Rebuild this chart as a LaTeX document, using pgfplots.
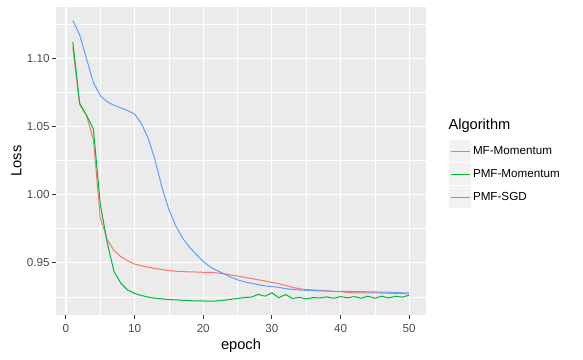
\documentclass[border=0pt]{standalone}
\usepackage{fontspec}
\setmainfont{Liberation Sans}
\usepackage{pgfplots}
\pgfplotsset{compat=1.18}
\usepackage{pgfplotstable}
\definecolor{ggred}{HTML}{F8766D}
\definecolor{gggreen}{HTML}{00BA38}
\definecolor{ggblue}{HTML}{619CFF}
\definecolor{panelbg}{HTML}{EBEBEB}
\definecolor{keybg}{HTML}{F2F2F2}
\definecolor{gray20}{HTML}{333333}
\definecolor{gray30}{HTML}{4D4D4D}

\pgfplotstableread{
epoch loss
1 1.108
2 1.066
3 1.058
4 1.040
5 0.983
6 0.967
7 0.959
8 0.9545
9 0.9515
10 0.949
11 0.9478
12 0.9467
13 0.9458
14 0.945
15 0.9443
16 0.9438
17 0.9435
18 0.9433
19 0.9432
20 0.943
21 0.943
22 0.9425
23 0.942
24 0.941
25 0.9403
26 0.9393
27 0.9385
28 0.9375
29 0.9367
30 0.9356
31 0.9346
32 0.9333
33 0.932
34 0.931
35 0.9304
36 0.930
37 0.9298
38 0.9295
39 0.929
40 0.9288
41 0.9282
42 0.928
43 0.928
44 0.928
45 0.9279
46 0.9278
47 0.9276
48 0.9274
49 0.9273
50 0.9272
}\mfmom

\pgfplotstableread{
epoch loss
1 1.112
2 1.067
3 1.058
4 1.048
5 0.993
6 0.965
7 0.9435
8 0.935
9 0.930
10 0.9275
11 0.926
12 0.9248
13 0.924
14 0.9235
15 0.923
16 0.9228
17 0.9225
18 0.9222
19 0.922
20 0.922
21 0.9218
22 0.922
23 0.9225
24 0.9232
25 0.9238
26 0.9245
27 0.9248
28 0.9268
29 0.9255
30 0.928
31 0.9243
32 0.9267
33 0.9238
34 0.9247
35 0.9235
36 0.9245
37 0.9242
38 0.925
39 0.924
40 0.9252
41 0.9243
42 0.9252
43 0.924
44 0.9255
45 0.924
46 0.9255
47 0.9242
48 0.9254
49 0.9248
50 0.9262
}\pmfmom

\pgfplotstableread{
epoch loss
1 1.1275
2 1.117
3 1.0995
4 1.082
5 1.0725
6 1.068
7 1.0655
8 1.0635
9 1.0615
10 1.059
11 1.052
12 1.041
13 1.025
14 1.005
15 0.989
16 0.977
17 0.968
18 0.9615
19 0.956
20 0.951
21 0.947
22 0.9443
23 0.942
24 0.9395
25 0.9375
26 0.936
27 0.935
28 0.934
29 0.933
30 0.9325
31 0.932
32 0.931
33 0.9305
34 0.930
35 0.9298
36 0.9296
37 0.9294
38 0.9292
39 0.929
40 0.929
41 0.929
42 0.9289
43 0.9288
44 0.9287
45 0.9286
46 0.9285
47 0.9284
48 0.9282
49 0.928
50 0.928
}\pmfsgd

\begin{document}
\begin{tikzpicture}
\path[use as bounding box] (0,0) rectangle (583bp,360bp);
\begin{axis}[
  at={(56bp,45bp)}, anchor=south west,
  scale only axis, width=370bp, height=308bp,
  xmin=-1.45, xmax=52.45, ymin=0.9117, ymax=1.1375,
  axis background/.style={fill=panelbg},
  axis line style={draw=none},
  xtick={0,10,20,30,40,50}, minor xtick={5,15,25,35,45},
  ytick={0.95,1.00,1.05,1.10}, minor ytick={0.925,0.975,1.025,1.075,1.125},
  grid=both,
  major grid style={white, line width=1.2bp},
  minor grid style={white, line width=0.6bp},
  tick pos=left,
  tick align=outside, major tick length=3.67bp, minor tick length=0pt,
  major tick style={gray20, line width=1bp},
  tick label style={font=\fontsize{11.7}{13}\selectfont, text=gray30},
  /pgf/number format/assume math mode=true,
  yticklabel style={/pgf/number format/fixed, /pgf/number format/fixed zerofill, /pgf/number format/precision=2, anchor=east, inner sep=0pt, xshift=-2.5bp},
  xticklabel style={anchor=north, inner sep=0pt, yshift=-5.5bp},
  xlabel={epoch}, ylabel={Loss},
  label style={font=\fontsize{14.7}{16}\selectfont},
  xlabel style={at={(axis description cs:0.5,-0.1136)}, anchor=base, inner sep=0pt},
  ylabel style={at={(axis description cs:-0.0927,0.5)}, anchor=south, inner sep=0pt},
  legend style={at={(axis description cs:1.0622,0.5672)}, anchor=north west,
    draw=none, fill=none, inner sep=0pt, outer sep=0pt, row sep=1bp,
    font=\fontsize{11.7}{13}\selectfont,
    /tikz/every even column/.append style={column sep=10bp}},
  legend cell align=left,
  legend image code/.code={\fill[keybg,draw=none] (0bp,-11bp) rectangle (22bp,11bp); \draw[#1, line width=1.5bp] (1.5bp,0bp) -- (20.5bp,0bp);},
  every axis plot/.append style={line width=1bp},
]
\addplot[ggred, no markers] table[x=epoch,y=loss] {\mfmom};
\addlegendentry{MF-Momentum}
\addplot[gggreen, no markers] table[x=epoch,y=loss] {\pmfmom};
\addlegendentry{PMF-Momentum}
\addplot[ggblue, no markers] table[x=epoch,y=loss] {\pmfsgd};
\addlegendentry{PMF-SGD}
\end{axis}
\node[anchor=base west, inner sep=0pt, font=\fontsize{14.7}{16}\selectfont] at (448.3bp,230bp) {Algorithm};
\end{tikzpicture}
\end{document}
